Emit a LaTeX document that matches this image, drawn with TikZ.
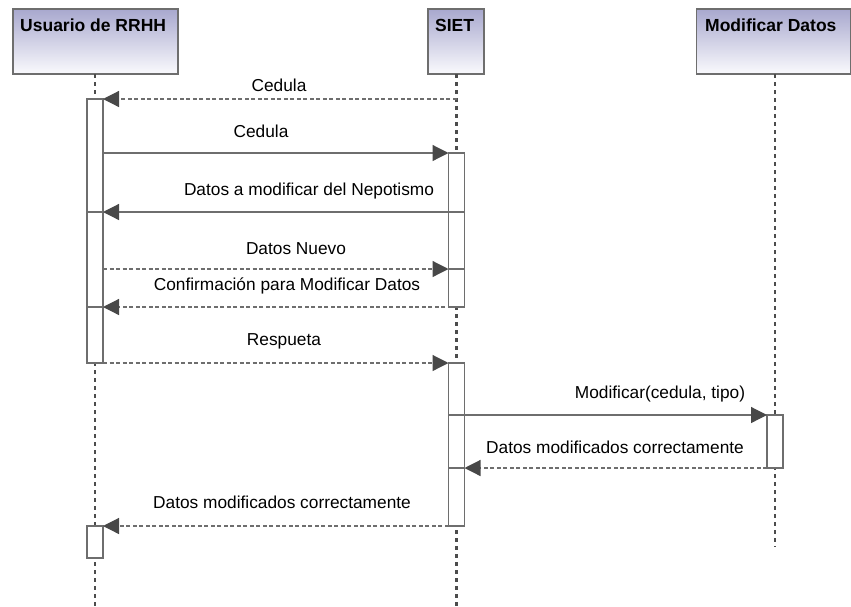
\documentclass[tikz,border=0pt]{standalone}
\usepackage{fontspec}
\setmainfont{Liberation Sans}
\usepackage{tikz}
\usetikzlibrary{arrows.meta,positioning}

\definecolor{linegray}{RGB}{110,110,110}
\definecolor{tipgray}{RGB}{72,72,72}
\definecolor{hdrtop}{RGB}{168,168,206}
\definecolor{hdrbot}{RGB}{250,250,253}

\begin{document}
\begin{tikzpicture}[x=1pt,y=-1pt,
  hdr/.style={draw=linegray,line width=1.2pt,rectangle,top color=hdrtop,bottom color=hdrbot,
    minimum height=65pt,anchor=north west,inner sep=0pt,outer sep=0pt},
  hdrtext/.style={anchor=base west,inner sep=0pt,font=\fontsize{17.5}{20}\selectfont\bfseries},
  lifeline/.style={draw=black!70,line width=2.6pt,dash pattern=on 4pt off 4pt},
  act/.style={draw=linegray,line width=1.2pt,fill=white,rectangle,minimum width=16pt,inner sep=0pt,outer sep=0pt,anchor=north},
  sep/.style={draw=linegray,line width=1.2pt},
  msg/.style={draw=linegray,line width=1.2pt,-{Triangle[length=16pt,width=16pt,color=tipgray]}},
  ret/.style={msg,dash pattern=on 4pt off 2.5pt},
  lbl/.style={inner sep=0pt,font=\fontsize{17.3}{20}\selectfont}]
\useasboundingbox (0,0) rectangle (851,606);

% lifeline heads
\node[hdr,minimum width=165pt] (hdrU) at (13,9) {};
\node[hdr,minimum width=56pt] (hdrS) at (428,9) {};
\node[hdr,minimum width=154pt] (hdrM) at (696.5,9) {};
\node[hdrtext] (nameU) at (20,31) {Usuario de RRHH};
\node[hdrtext] (nameS) at (435,31) {SIET};
\node[hdrtext] (nameM) at (705,31) {Modificar Datos};

% lifelines
\coordinate (endU) at (95,606);
\coordinate (endS) at (456.5,606);
\coordinate (endM) at (775,547);
\foreach \h/\e in {hdrU/endU,hdrS/endS,hdrM/endM} {
   \draw[lifeline] (\h.south -| \e) -- (\e);
}

% activations
\node[act,minimum height=264pt] (actU1) at (95,99) {};
\node[act,minimum height=32pt] (actU2) at (95,526) {};
\node[act,minimum height=154pt] (actS1) at (456.5,153) {};
\node[act,minimum height=163pt] (actS2) at (456.5,363) {};
\node[act,minimum height=53pt] (actM1) at (775,415) {};

% message ends
\coordinate (m1) at (456.5,99);
\coordinate (m3) at (456.5,212);
\coordinate (m4) at (95,269);
\coordinate (m7) at (456.5,415);
\coordinate (m8) at (456.5,468);

% messages
\draw[ret] (m1) -- (actU1.north east);
\draw[msg] (actU1.east |- actS1.north) -- (actS1.north west);
\draw[sep] (actU1.west |- m3) -- (actU1.east |- m3);
\draw[msg] (actS1.east |- m3) -- (actU1.east |- m3);
\draw[sep] (actS1.west |- m4) -- (actS1.east |- m4);
\draw[ret] (actU1.east |- m4) -- (actS1.west |- m4);
\draw[ret] (actS1.south east) -- (actU1.east |- actS1.south);
\draw[sep] (actU1.west |- actS1.south) -- (actU1.east |- actS1.south);
\draw[ret] (actU1.south east) -- (actS2.north west);
\draw[sep] (actS2.west |- m7) -- (actS2.east |- m7);
\draw[msg] (actS2.east |- m7) -- (actM1.north west);
\draw[sep] (actS2.west |- m8) -- (actS2.east |- m8);
\draw[ret] (actM1.south west) -- (actS2.east |- m8);
\draw[ret] (actS2.south west) -- (actU2.north east);

% labels
\node[lbl] (l1) at (279,85) {Cedula};
\node[lbl] (l2) at (261,131) {Cedula};
\node[lbl] (l3) at (309,191) {Datos a modificar del Nepotismo};
\node[lbl] (l4) at (296,249) {Datos Nuevo};
\node[lbl] (l5) at (287,286) {Confirmación para Modificar Datos};
\node[lbl] (l6) at (284,341) {Respueta};
\node[lbl] (l7) at (660,394) {Modificar(cedula, tipo)};
\node[lbl] (l8) at (615,447) {Datos modificados correctamente};
\node[lbl] (l9) at (282,502) {Datos modificados correctamente};
\end{tikzpicture}
\end{document}
